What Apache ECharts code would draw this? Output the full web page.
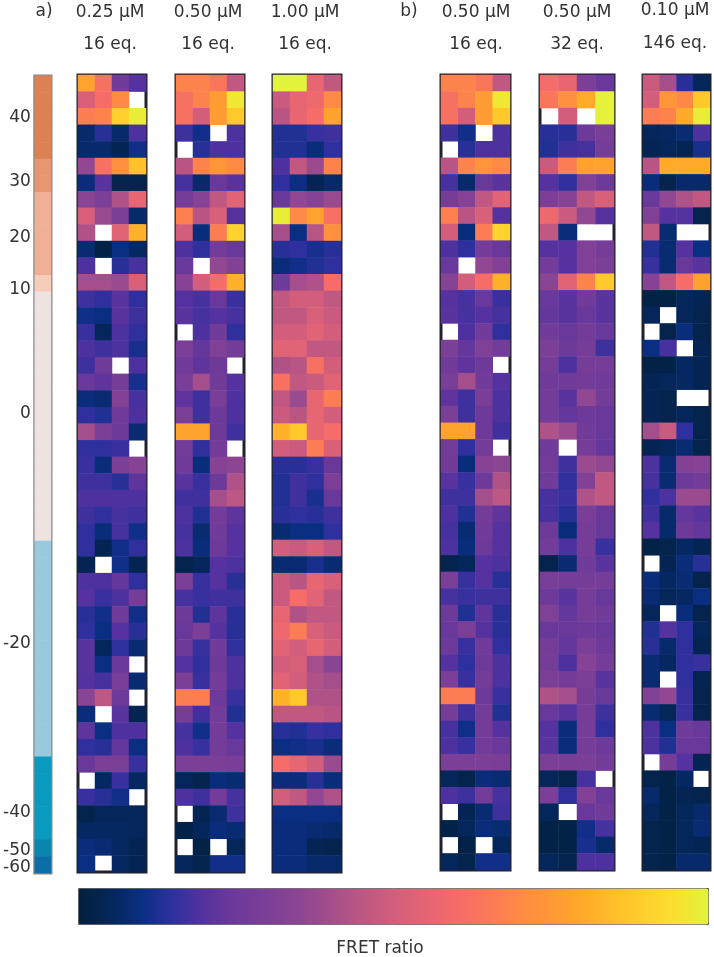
<!DOCTYPE html>
<html>
<head>
<meta charset="utf-8">
<style>
html, body { margin: 0; padding: 0; background: #fff; }
#chart { width: 714px; height: 957px; }
</style>
<script src="https://cdn.jsdelivr.net/npm/echarts@6/dist/echarts.min.js"></script>
</head>
<body>
<div id="chart"></div>
<script>
// each row holds the 4 columns of one residue, null = no measurement (white)
const a025 = [
	[78,62,26,20],[52,60,70,null],[66,68,90,98],[7,14,7,19],[7,7,4,11],[36,62,72,86],[9,21,3,3],[34,30,42,56],
	[52,38,30,7],[42,null,54,82],[8,2,10,6],[19,null,14,18],[40,40,38,52],[17,15,21,15],[11,10,21,17],[16,5,19,15],
	[19,17,19,12],[17,26,null,19],[24,22,28,12],[9,8,32,18],[15,13,26,19],[40,30,25,8],[15,15,16,null],[16,9,30,33],
	[17,17,14,22],[19,19,19,19],[17,15,18,17],[15,9,18,11],[15,4,11,15],[4,null,11,4],[19,19,23,15],[20,16,19,28],
	[14,11,26,11],[15,10,20,14],[21,5,15,8],[21,10,24,null],[20,18,29,8],[34,45,25,null],[9,null,21,4],[22,10,19,19],
	[15,14,23,10],[24,30,30,16],[null,6,16,6],[16,14,11,null],[3,5,5,5],[6,6,6,5],[9,8,6,4],[10,null,6,4]
];
const a050 = [
	[68,68,64,46],[62,68,76,97],[62,50,76,88],[17,11,null,19],[null,14,19,19],[44,68,74,70],[18,7,24,21],[28,33,46,54],
	[67,44,52,20],[50,9,66,91],[19,15,27,24],[24,null,36,32],[33,50,60,82],[20,18,24,16],[21,18,20,18],[null,19,26,15],
	[30,23,31,27],[26,22,25,null],[29,40,26,20],[22,17,29,19],[30,17,25,19],[78,78,25,17],[27,15,27,null],[26,9,33,35],
	[21,16,25,42],[17,17,40,45],[19,13,27,22],[18,8,26,20],[19,9,25,20],[3,5,20,19],[30,16,20,14],[18,16,17,17],
	[25,13,22,14],[24,30,20,14],[25,16,26,15],[20,15,25,19],[30,16,27,19],[66,66,25,16],[28,17,27,13],[18,11,27,20],
	[19,16,27,24],[30,30,30,29],[5,3,9,8],[19,17,27,18],[null,4,8,17],[2,5,9,8],[null,2,null,5],[5,3,11,11]
];
const a100 = [
	[100,100,56,46],[48,56,58,70],[44,56,60,78],[13,13,16,17],[13,13,9,15],[19,46,38,68],[15,10,4,7],[24,36,33,38],
	[98,70,78,62],[40,10,44,72],[14,15,12,14],[9,11,13,15],[26,40,42,60],[46,50,50,46],[46,46,52,48],[50,50,54,50],
	[54,54,46,46],[42,44,62,50],[62,46,48,54],[46,38,56,66],[48,44,56,50],[82,88,56,60],[50,48,66,52],[14,14,16,24],
	[13,17,15,30],[13,17,12,24],[14,15,14,17],[8,10,10,15],[50,48,52,46],[8,8,12,8],[48,44,56,52],[48,60,54,46],
	[56,42,46,46],[58,66,52,48],[54,50,56,50],[50,52,40,34],[54,50,42,40],[82,88,42,42],[46,46,46,44],[14,13,16,15],
	[10,11,12,9],[60,56,50,38],[9,9,14,9],[50,46,36,42],[10,10,10,10],[9,9,8,7],[9,9,4,3],[9,9,7,7]
];
// panel b) first column is the same measurement as a) 0.50 uM
const b050x16 = a050;
const b050x32 = [
	[60,56,30,24],[64,72,80,99],[null,50,null,99],[14,14,25,29],[13,17,18,28],[48,66,78,78],[20,15,31,25],[30,33,46,52],
	[58,48,36,20],[46,9,null,null],[20,20,31,28],[27,20,31,30],[34,54,68,88],[24,21,26,21],[23,21,24,21],[26,24,27,24],
	[30,25,28,17],[28,19,28,28],[26,26,27,26],[27,21,36,27],[27,23,25,24],[42,38,26,24],[26,null,28,23],[27,17,38,36],
	[26,15,32,46],[18,16,42,46],[18,14,29,24],[25,9,28,24],[27,19,28,16],[3,8,26,21],[29,28,28,28],[25,21,28,24],
	[31,23,28,26],[24,24,25,24],[28,23,30,25],[28,19,33,28],[30,27,30,21],[42,40,28,24],[24,21,28,17],[20,9,28,15],
	[21,9,28,25],[30,29,30,27],[5,3,18,null],[30,15,32,24],[5,null,24,26],[2,2,11,18],[2,2,12,7],[5,3,19,19]
];
const b010x146 = [
	[48,40,14,5],[50,74,70,88],[66,68,80,98],[5,6,8,19],[4,5,4,12],[44,80,80,80],[9,3,7,7],[24,36,42,46],
	[31,20,20,3],[46,8,null,null],[13,8,20,10],[16,8,24,21],[33,46,60,78],[2,2,5,4],[5,null,5,3],[null,3,9,3],
	[10,18,null,4],[2,2,6,4],[4,5,6,4],[4,3,null,null],[4,3,5,3],[40,48,15,3],[4,5,8,3],[19,8,32,33],
	[18,8,25,27],[15,19,38,38],[17,7,23,21],[20,7,25,23],[2,3,6,4],[null,4,9,14],[9,6,8,3],[8,5,6,10],
	[5,null,9,3],[13,20,15,5],[14,7,15,4],[8,6,15,16],[8,null,15,4],[31,36,16,3],[8,5,16,3],[19,10,26,24],
	[19,13,24,24],[null,28,20,4],[3,2,6,null],[7,2,4,3],[5,2,5,7],[3,2,5,8],[3,2,5,4],[3,2,7,7]
];
const panelValues = [a025, a050, a100, b050x16, b050x32, b010x146];
const panelConc = ['0.25 µM', '0.50 µM', '1.00 µM', '0.50 µM', '0.50 µM', '0.10 µM'];
const panelEq = ['16 eq.', '16 eq.', '16 eq.', '16 eq.', '32 eq.', '146 eq.'];

// domain strip on the left, one group number per row
const stripGroups = [
	0,0,0,0,0,1,1,2,2,2,2,2,3,
	4,4,4,4,4,4,4,4,4,4,4,4,4,4,4,
	5,5,5,5,5,5,5,5,5,5,5,5,5,
	6,6,6,6,6,7,8
];
const stripTickLabels = ['40', '30', '20', '10', '0', '-20', '-40', '-50', '-60'];
const stripTickRows = [2.53, 6.33, 9.76, 12.85, 20.36, 34.16, 44.34, 46.63, 47.7];
const stripColors = ['#dd8052', '#e8966f', '#efb095', '#f6cdbb', '#efe3e1', '#98c9dc', '#0a9ac0', '#0a85b0', '#0c6ea8'];

// colour bar read every 5 %
const rampColors = [
	'#03203c', '#04265a', '#0a2f82', '#2f309e', '#55329f', '#6e3a9a', '#7c3f97',
	'#8c4593', '#a44e8b', '#bd5784', '#d25e7c', '#e46474', '#f56c68', '#fb7858',
	'#ff8a45', '#ff9836', '#ffaa28', '#ffbe2a', '#ffd02c', '#fae030', '#e0f53c'
];

const fontFamily = '"DejaVu Sans", sans-serif';
const textColor = '#333';
const rowNames = stripGroups.map( ( _, i ) => i );
const colNames = [ 0, 1, 2, 3 ];

const panelBoxes = [
	[ 78, 68 ], [ 176, 68 ], [ 273, 68 ], [ 441, 69 ], [ 540, 74 ], [ 643, 67 ]
];
const panelTitleX = [ 110, 208, 305, 476, 577, 675 ];

const grids = [];
const xAxes = [];
const yAxes = [];
const series = [];

panelValues.forEach( ( rows, p ) => {
	grids.push( {
		left: panelBoxes[ p ][ 0 ],
		width: panelBoxes[ p ][ 1 ],
		top: 75,
		height: p < 3 ? 797 : 795,
		show: true,
		borderColor: '#20202e',
		borderWidth: 3,
		backgroundColor: '#fff'
	} );
	xAxes.push( { type: 'category', gridIndex: p, data: colNames, show: false } );
	yAxes.push( { type: 'category', gridIndex: p, data: rowNames, inverse: true, show: false } );
	const cells = [];
	rows.forEach( ( row, r ) => row.forEach( ( v, c ) => {
		if ( v !== null ) {
			cells.push( [ c, r, v ] );
		}
	} ) );
	series.push( {
		type: 'heatmap',
		xAxisIndex: p,
		yAxisIndex: p,
		data: cells,
		silent: true,
		progressive: 0
	} );
} );

// strip
const stripGrid = grids.length;
grids.push( {
	left: 34, width: 17, top: 76, height: 797,
	show: true, borderColor: '#8a8a8a', borderWidth: 3
} );
xAxes.push( { type: 'category', gridIndex: stripGrid, data: [ 0 ], show: false } );
yAxes.push( { type: 'category', gridIndex: stripGrid, data: rowNames, inverse: true, show: false } );
series.push( {
	type: 'heatmap',
	xAxisIndex: stripGrid,
	yAxisIndex: stripGrid,
	data: stripGroups.map( ( g, r ) => [ 0, r, g ] ),
	silent: true
} );
// the printed residue numbers do not sit on row centres, so they get their own axis
yAxes.push( {
	type: 'value',
	gridIndex: stripGrid,
	min: 0,
	max: 48,
	inverse: true,
	position: 'left',
	axisLine: { show: false },
	axisTick: { show: false },
	splitLine: { show: false },
	axisLabel: {
		customValues: stripTickRows,
		formatter: ( v ) => stripTickLabels[ stripTickRows.indexOf( v ) ],
		color: textColor,
		fontFamily,
		fontSize: 17,
		margin: 4
	}
} );

const headerText = ( text, x, y ) => ( {
	text,
	left: x,
	top: y,
	textAlign: 'center',
	textVerticalAlign: 'middle',
	padding: 0,
	textStyle: { color: textColor, fontFamily, fontSize: 17, fontWeight: 'normal' }
} );

const titles = [ headerText( 'a)', 44, 12 ), headerText( 'b)', 409, 12 ), headerText( 'FRET ratio', 380, 949 ) ];
panelConc.forEach( ( t, i ) => titles.push( headerText( t, panelTitleX[ i ], i === 5 ? 11 : 13 ) ) );
panelEq.forEach( ( t, i ) => titles.push( headerText( t, panelTitleX[ i ], i === 5 ? 44 : 45 ) ) );

const chart = echarts.init( document.getElementById( 'chart' ), null, { renderer: 'canvas' } );
chart.setOption( {
	animation: false,
	backgroundColor: '#fff',
	title: titles,
	grid: grids,
	xAxis: xAxes,
	yAxis: yAxes,
	visualMap: [
		{
			type: 'continuous',
			seriesIndex: panelValues.map( ( _, i ) => i ),
			min: 0,
			max: 100,
			orient: 'horizontal',
			left: 78,
			top: 888,
			itemWidth: 36,
			itemHeight: 630,
			padding: 0,
			text: null,
			showLabel: false,
			calculable: false,
			realtime: false,
			hoverLink: false,
			borderColor: '#555',
			borderWidth: 1,
			inRange: { color: rampColors }
		},
		{
			type: 'piecewise',
			seriesIndex: stripGrid,
			show: false,
			dimension: 2,
			pieces: stripColors.map( ( color, i ) => ( { value: i, color } ) )
		}
	],
	series
} );
</script>
</body>
</html>
